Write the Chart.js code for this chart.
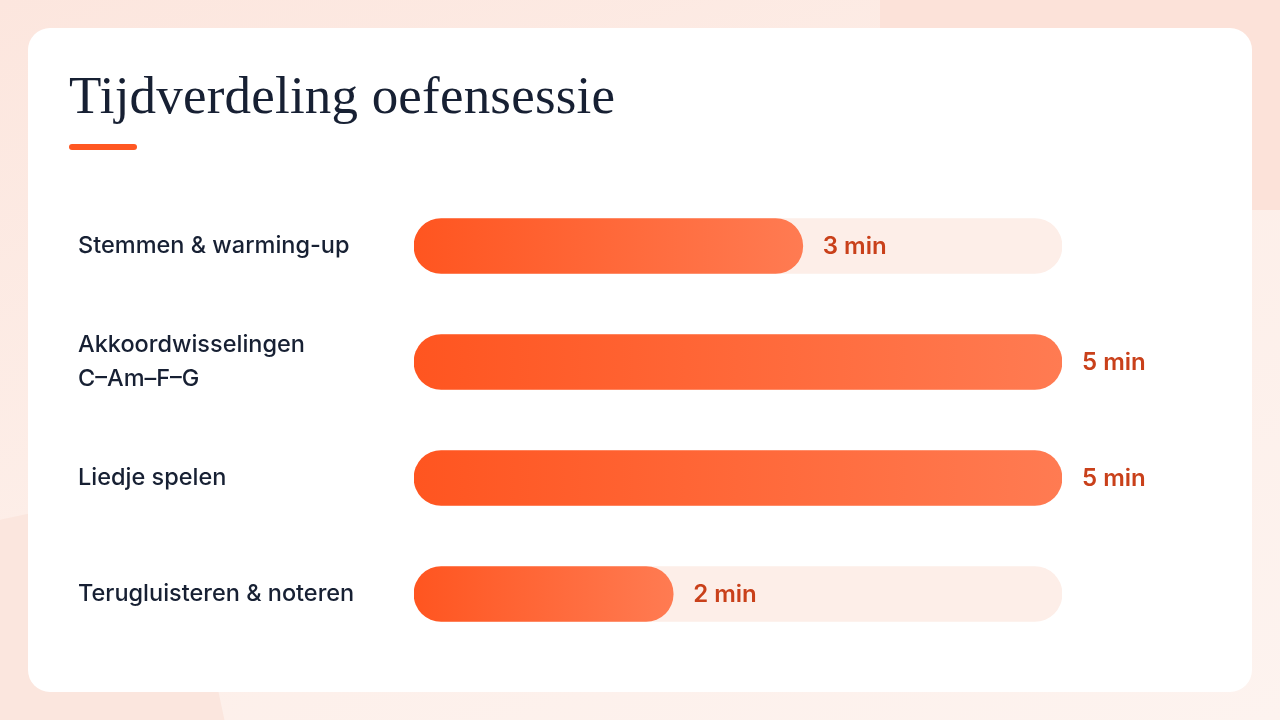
<!DOCTYPE html>
<html>
<head>
<meta charset="utf-8">
<script src="https://cdn.jsdelivr.net/npm/chart.js@4.4.1/dist/chart.umd.min.js"></script>
<style>
  html, body { margin: 0; padding: 0; width: 1280px; height: 720px; overflow: hidden; }
  body {
    position: relative;
    background: linear-gradient(160deg, #fce6de 0%, #fdeee8 45%, #fdf3ef 100%);
  }
  .blob1 { position: absolute; left: -180px; top: 520px; width: 400px; height: 400px; border-radius: 40px; background: #fbe6de; transform: rotate(-12deg); }
  .blob2 { position: absolute; left: 880px; top: -200px; width: 560px; height: 410px; border-radius: 80px; background: #fce2d9; }
  .card {
    position: absolute; left: 28px; top: 28px; width: 1224px; height: 664px;
    background: #ffffff; border-radius: 22px;
  }
  .title {
    position: absolute; left: 69px; top: 64px; margin: 0;
    font-family: "Liberation Serif", "DejaVu Serif", serif; font-weight: 400;
    font-size: 53px; line-height: 1.2; color: #172033; letter-spacing: 0.2px;
  }
  .accent { position: absolute; left: 69px; top: 144px; width: 68px; height: 6px; border-radius: 3px; background: #ff5722; }
  .chartbox { position: absolute; left: 0; top: 168px; width: 1280px; height: 504px; }
</style>
</head>
<body>
<div class="blob1"></div>
<div class="blob2"></div>
<div class="card"></div>
<h1 class="title">Tijdverdeling oefensessie</h1>
<div class="accent"></div>
<div class="chartbox"><canvas id="c"></canvas></div>
<script>
const categories = [
  "Stemmen & warming-up",
  ["Akkoordwisselingen", "C–Am–F–G"],
  "Liedje spelen",
  "Terugluisteren & noteren"
];
const minutes = [3, 5, 5, 2];
const trackMax = [5, 5, 5, 5];
const valueLabels = ["3 min", "5 min", "5 min", "2 min"];

const valueLabelPlugin = {
  id: 'valueLabels',
  afterDatasetsDraw(chart) {
    const meta = chart.getDatasetMeta(1);
    const ctx = chart.ctx;
    ctx.save();
    ctx.font = '600 24px Inter, "Noto Sans", sans-serif';
    ctx.fillStyle = '#c9401a';
    ctx.textAlign = 'left';
    ctx.textBaseline = 'middle';
    meta.data.forEach((bar, i) => {
      ctx.fillText(valueLabels[i], bar.x + 20, bar.y + 1);
    });
    ctx.restore();
  }
};

new Chart(document.getElementById('c'), {
  type: 'bar',
  data: {
    labels: categories,
    datasets: [
      {
        label: 'Maximum',
        data: trackMax,
        backgroundColor: '#fdeee8',
        barThickness: 55,
        borderRadius: 28,
        borderSkipped: false,
        grouped: false,
        order: 2
      },
      {
        label: 'Minuten',
        data: minutes,
        backgroundColor(context) {
          const chart = context.chart;
          const area = chart.chartArea;
          if (!area) return '#ff5f2e';
          const xs = chart.scales.x;
          const v = context.raw;
          const x0 = xs.getPixelForValue(0);
          const x1 = xs.getPixelForValue(v);
          const g = chart.ctx.createLinearGradient(x0, 0, x1, 0);
          g.addColorStop(0, '#ff5520');
          g.addColorStop(1, '#ff7b52');
          return g;
        },
        barThickness: 55,
        borderRadius: 28,
        borderSkipped: false,
        grouped: false,
        order: 1
      }
    ]
  },
  options: {
    indexAxis: 'y',
    responsive: true,
    maintainAspectRatio: false,
    animation: false,
    layout: { padding: { left: 78, right: 218, top: 0, bottom: 0 } },
    plugins: { legend: { display: false }, tooltip: { enabled: false } },
    scales: {
      x: { display: false, min: 0, max: 5 },
      y: {
        grid: { display: false, drawBorder: false },
        border: { display: false },
        afterFit(scale) { scale.width = 336; },
        ticks: {
          crossAlign: 'far',
          color: '#172033',
          font: { family: 'Inter, "Noto Sans", sans-serif', size: 23.5, weight: '500', lineHeight: 1.45 }
        }
      }
    }
  },
  plugins: [valueLabelPlugin]
});
</script>
</body>
</html>
